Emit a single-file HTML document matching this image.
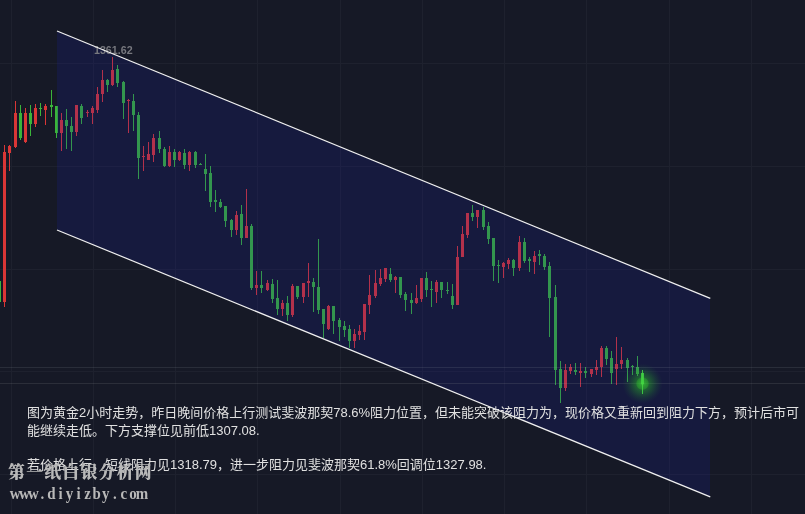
<!DOCTYPE html>
<html lang="zh-CN">
<head>
<meta charset="utf-8">
<title>黄金2小时走势</title>
<style>
html,body{margin:0;padding:0;background:#161926;}
body{width:805px;height:514px;overflow:hidden;position:relative;font-family:"Liberation Sans","Noto Sans CJK SC",sans-serif;}
#chart{position:absolute;left:0;top:0;width:805px;height:514px;display:block;}
.t{position:absolute;white-space:nowrap;margin:0;}
.note{left:27px;font-size:13px;line-height:18px;color:#e0e0e0;}
.wm1{left:8px;top:462px;font-family:"Liberation Serif","Noto Serif CJK SC",serif;font-weight:700;font-size:16.5px;line-height:22px;letter-spacing:1.6px;color:#b8b8b8;text-shadow:0.5px 0 0 #b8b8b8;}
.wm2{position:absolute;left:0;top:480px;display:block;overflow:visible;}

</style>
</head>
<body>
<svg id="chart" width="805" height="514" viewBox="0 0 805 514">
<defs><radialGradient id="glow" cx="50%" cy="50%" r="50%"><stop offset="0" stop-color="#48e840" stop-opacity="0.92"/><stop offset="0.09" stop-color="#38d830" stop-opacity="0.72"/><stop offset="0.28" stop-color="#30cc28" stop-opacity="0.6"/><stop offset="0.33" stop-color="#2cc824" stop-opacity="0.4"/><stop offset="0.5" stop-color="#2cc424" stop-opacity="0.28"/><stop offset="0.7" stop-color="#2cc024" stop-opacity="0.14"/><stop offset="0.87" stop-color="#2cbc24" stop-opacity="0.05"/><stop offset="1" stop-color="#2cb824" stop-opacity="0"/></radialGradient></defs>
<rect width="805" height="514" fill="#161926"/>
<g shape-rendering="crispEdges" fill="#1e212e"><rect x="11" y="0" width="1" height="514"/><rect x="93" y="0" width="1" height="514"/><rect x="175" y="0" width="1" height="514"/><rect x="257" y="0" width="1" height="514"/><rect x="340" y="0" width="1" height="514"/><rect x="422" y="0" width="1" height="514"/><rect x="504" y="0" width="1" height="514"/><rect x="586" y="0" width="1" height="514"/><rect x="669" y="0" width="1" height="514"/><rect x="751" y="0" width="1" height="514"/><rect x="0" y="63" width="805" height="1"/><rect x="0" y="166" width="805" height="1"/><rect x="0" y="269" width="805" height="1"/><rect x="0" y="371" width="805" height="1"/><rect x="0" y="474" width="805" height="1"/></g>
<g shape-rendering="crispEdges" fill="#da3636"><rect x="4" y="145" width="1" height="162"/><rect x="3" y="152" width="3" height="150"/><rect x="9" y="145" width="1" height="26"/><rect x="8" y="146" width="3" height="7"/><rect x="15" y="101" width="1" height="47"/><rect x="14" y="113" width="3" height="34"/><rect x="25" y="108" width="1" height="35"/><rect x="24" y="113" width="3" height="29"/><rect x="35" y="104" width="1" height="23"/><rect x="34" y="108" width="3" height="16"/><rect x="45" y="104" width="1" height="21"/><rect x="44" y="106" width="3" height="4"/><rect x="61" y="113" width="1" height="38"/><rect x="60" y="120" width="3" height="13"/><rect x="76" y="105" width="1" height="31"/><rect x="75" y="105" width="3" height="27"/><rect x="87" y="110" width="1" height="7"/><rect x="86" y="112" width="3" height="1"/><rect x="92" y="106" width="1" height="18"/><rect x="91" y="108" width="3" height="5"/><rect x="97" y="87" width="1" height="26"/><rect x="96" y="94" width="3" height="16"/><rect x="102" y="70" width="1" height="32"/><rect x="101" y="80" width="3" height="14"/><rect x="112" y="57" width="1" height="29"/><rect x="111" y="70" width="3" height="15"/><rect x="128" y="99" width="1" height="34"/><rect x="127" y="100" width="3" height="1"/><rect x="143" y="146" width="1" height="25"/><rect x="142" y="156" width="3" height="1"/><rect x="148" y="142" width="1" height="18"/><rect x="147" y="154" width="3" height="6"/><rect x="153" y="134" width="1" height="28"/><rect x="152" y="138" width="3" height="17"/><rect x="169" y="146" width="1" height="21"/><rect x="168" y="152" width="3" height="14"/><rect x="179" y="151" width="1" height="10"/><rect x="178" y="152" width="3" height="8"/><rect x="189" y="151" width="1" height="20"/><rect x="188" y="152" width="3" height="13"/><rect x="236" y="211" width="1" height="24"/><rect x="235" y="215" width="3" height="15"/><rect x="246" y="189" width="1" height="49"/><rect x="245" y="226" width="3" height="12"/><rect x="256" y="271" width="1" height="24"/><rect x="255" y="285" width="3" height="3"/><rect x="267" y="280" width="1" height="11"/><rect x="266" y="283" width="3" height="7"/><rect x="282" y="300" width="1" height="16"/><rect x="281" y="303" width="3" height="6"/><rect x="292" y="284" width="1" height="33"/><rect x="291" y="286" width="3" height="29"/><rect x="303" y="283" width="1" height="20"/><rect x="302" y="283" width="3" height="14"/><rect x="308" y="263" width="1" height="34"/><rect x="307" y="281" width="3" height="2"/><rect x="328" y="305" width="1" height="25"/><rect x="327" y="306" width="3" height="23"/><rect x="354" y="329" width="1" height="19"/><rect x="353" y="334" width="3" height="7"/><rect x="359" y="325" width="1" height="15"/><rect x="358" y="331" width="3" height="4"/><rect x="364" y="304" width="1" height="36"/><rect x="363" y="304" width="3" height="28"/><rect x="369" y="275" width="1" height="39"/><rect x="368" y="295" width="3" height="10"/><rect x="375" y="270" width="1" height="28"/><rect x="374" y="283" width="3" height="13"/><rect x="380" y="269" width="1" height="17"/><rect x="379" y="278" width="3" height="6"/><rect x="385" y="268" width="1" height="14"/><rect x="384" y="268" width="3" height="11"/><rect x="395" y="276" width="1" height="17"/><rect x="394" y="277" width="3" height="3"/><rect x="416" y="285" width="1" height="19"/><rect x="415" y="298" width="3" height="5"/><rect x="421" y="278" width="1" height="24"/><rect x="420" y="278" width="3" height="21"/><rect x="436" y="280" width="1" height="23"/><rect x="435" y="282" width="3" height="10"/><rect x="457" y="246" width="1" height="59"/><rect x="456" y="257" width="3" height="48"/><rect x="462" y="226" width="1" height="31"/><rect x="461" y="234" width="3" height="23"/><rect x="467" y="213" width="1" height="25"/><rect x="466" y="213" width="3" height="22"/><rect x="477" y="210" width="1" height="18"/><rect x="476" y="210" width="3" height="7"/><rect x="503" y="262" width="1" height="16"/><rect x="502" y="263" width="3" height="4"/><rect x="508" y="258" width="1" height="11"/><rect x="507" y="260" width="3" height="4"/><rect x="519" y="236" width="1" height="35"/><rect x="518" y="242" width="3" height="26"/><rect x="534" y="251" width="1" height="23"/><rect x="533" y="256" width="3" height="6"/><rect x="565" y="364" width="1" height="27"/><rect x="564" y="370" width="3" height="18"/><rect x="570" y="364" width="1" height="10"/><rect x="569" y="367" width="3" height="4"/><rect x="580" y="363" width="1" height="24"/><rect x="579" y="371" width="3" height="2"/><rect x="591" y="369" width="1" height="8"/><rect x="590" y="369" width="3" height="5"/><rect x="596" y="360" width="1" height="15"/><rect x="595" y="367" width="3" height="3"/><rect x="601" y="346" width="1" height="31"/><rect x="600" y="348" width="3" height="19"/><rect x="616" y="337" width="1" height="48"/><rect x="615" y="364" width="3" height="5"/><rect x="621" y="347" width="1" height="22"/><rect x="620" y="360" width="3" height="4"/></g>
<g shape-rendering="crispEdges" fill="#3ab53a"><rect x="-2" y="281" width="3" height="21"/><rect x="20" y="105" width="1" height="35"/><rect x="19" y="113" width="3" height="25"/><rect x="30" y="105" width="1" height="31"/><rect x="29" y="113" width="3" height="11"/><rect x="40" y="103" width="1" height="13"/><rect x="39" y="108" width="3" height="1"/><rect x="51" y="90" width="1" height="27"/><rect x="50" y="105" width="3" height="2"/><rect x="56" y="106" width="1" height="32"/><rect x="55" y="106" width="3" height="27"/><rect x="66" y="109" width="1" height="40"/><rect x="65" y="120" width="3" height="6"/><rect x="71" y="117" width="1" height="34"/><rect x="70" y="126" width="3" height="6"/><rect x="81" y="104" width="1" height="20"/><rect x="80" y="106" width="3" height="12"/><rect x="107" y="79" width="1" height="13"/><rect x="106" y="80" width="3" height="5"/><rect x="117" y="65" width="1" height="22"/><rect x="116" y="69" width="3" height="14"/><rect x="123" y="81" width="1" height="38"/><rect x="122" y="82" width="3" height="21"/><rect x="133" y="94" width="1" height="37"/><rect x="132" y="101" width="3" height="14"/><rect x="138" y="112" width="1" height="67"/><rect x="137" y="115" width="3" height="43"/><rect x="159" y="131" width="1" height="22"/><rect x="158" y="138" width="3" height="11"/><rect x="164" y="147" width="1" height="20"/><rect x="163" y="149" width="3" height="17"/><rect x="174" y="149" width="1" height="18"/><rect x="173" y="152" width="3" height="8"/><rect x="184" y="149" width="1" height="20"/><rect x="183" y="153" width="3" height="12"/><rect x="195" y="151" width="1" height="17"/><rect x="194" y="152" width="3" height="13"/><rect x="200" y="163" width="1" height="2"/><rect x="199" y="164" width="3" height="1"/><rect x="205" y="154" width="1" height="37"/><rect x="204" y="169" width="3" height="5"/><rect x="210" y="166" width="1" height="41"/><rect x="209" y="173" width="3" height="29"/><rect x="215" y="190" width="1" height="22"/><rect x="214" y="200" width="3" height="2"/><rect x="220" y="199" width="1" height="9"/><rect x="219" y="202" width="3" height="5"/><rect x="225" y="206" width="1" height="21"/><rect x="224" y="206" width="3" height="15"/><rect x="231" y="219" width="1" height="18"/><rect x="230" y="220" width="3" height="10"/><rect x="241" y="205" width="1" height="40"/><rect x="240" y="214" width="3" height="24"/><rect x="251" y="224" width="1" height="66"/><rect x="250" y="226" width="3" height="62"/><rect x="261" y="271" width="1" height="22"/><rect x="260" y="285" width="3" height="3"/><rect x="272" y="279" width="1" height="24"/><rect x="271" y="284" width="3" height="15"/><rect x="277" y="280" width="1" height="35"/><rect x="276" y="298" width="3" height="11"/><rect x="287" y="296" width="1" height="25"/><rect x="286" y="303" width="3" height="12"/><rect x="297" y="286" width="1" height="13"/><rect x="296" y="286" width="3" height="11"/><rect x="313" y="278" width="1" height="34"/><rect x="312" y="282" width="3" height="5"/><rect x="318" y="239" width="1" height="75"/><rect x="317" y="287" width="3" height="23"/><rect x="323" y="309" width="1" height="29"/><rect x="322" y="309" width="3" height="15"/><rect x="333" y="306" width="1" height="28"/><rect x="332" y="306" width="3" height="15"/><rect x="339" y="318" width="1" height="23"/><rect x="338" y="320" width="3" height="7"/><rect x="344" y="321" width="1" height="16"/><rect x="343" y="326" width="3" height="4"/><rect x="349" y="325" width="1" height="23"/><rect x="348" y="329" width="3" height="12"/><rect x="390" y="268" width="1" height="14"/><rect x="389" y="274" width="3" height="6"/><rect x="400" y="277" width="1" height="21"/><rect x="399" y="277" width="3" height="18"/><rect x="405" y="292" width="1" height="19"/><rect x="404" y="294" width="3" height="6"/><rect x="411" y="293" width="1" height="21"/><rect x="410" y="300" width="3" height="3"/><rect x="426" y="272" width="1" height="25"/><rect x="425" y="278" width="3" height="12"/><rect x="431" y="281" width="1" height="26"/><rect x="430" y="289" width="3" height="1"/><rect x="441" y="282" width="1" height="16"/><rect x="440" y="282" width="3" height="8"/><rect x="447" y="282" width="1" height="12"/><rect x="446" y="290" width="3" height="1"/><rect x="452" y="284" width="1" height="25"/><rect x="451" y="296" width="3" height="9"/><rect x="472" y="205" width="1" height="16"/><rect x="471" y="213" width="3" height="4"/><rect x="483" y="207" width="1" height="23"/><rect x="482" y="210" width="3" height="17"/><rect x="488" y="222" width="1" height="22"/><rect x="487" y="226" width="3" height="13"/><rect x="493" y="238" width="1" height="43"/><rect x="492" y="238" width="3" height="28"/><rect x="498" y="260" width="1" height="23"/><rect x="497" y="265" width="3" height="1"/><rect x="513" y="259" width="1" height="17"/><rect x="512" y="260" width="3" height="8"/><rect x="524" y="238" width="1" height="25"/><rect x="523" y="242" width="3" height="19"/><rect x="529" y="257" width="1" height="15"/><rect x="528" y="259" width="3" height="2"/><rect x="539" y="250" width="1" height="15"/><rect x="538" y="254" width="3" height="2"/><rect x="544" y="254" width="1" height="16"/><rect x="543" y="256" width="3" height="11"/><rect x="549" y="262" width="1" height="75"/><rect x="548" y="266" width="3" height="32"/><rect x="555" y="285" width="1" height="100"/><rect x="554" y="297" width="3" height="73"/><rect x="560" y="361" width="1" height="42"/><rect x="559" y="369" width="3" height="19"/><rect x="575" y="363" width="1" height="12"/><rect x="574" y="370" width="3" height="2"/><rect x="585" y="367" width="1" height="11"/><rect x="584" y="371" width="3" height="2"/><rect x="606" y="346" width="1" height="19"/><rect x="605" y="348" width="3" height="11"/><rect x="611" y="351" width="1" height="33"/><rect x="610" y="358" width="3" height="15"/><rect x="627" y="358" width="1" height="24"/><rect x="626" y="360" width="3" height="8"/><rect x="632" y="365" width="1" height="10"/><rect x="631" y="366" width="3" height="1"/><rect x="637" y="356" width="1" height="20"/><rect x="636" y="367" width="3" height="7"/><rect x="642" y="370" width="1" height="24"/><rect x="641" y="373" width="3" height="11"/></g>
<polygon points="57,31 710,298.3 710,496.8 57,230" fill="rgba(26,32,158,0.2)"/>
<g shape-rendering="crispEdges"><rect x="0" y="367" width="805" height="1" fill="rgba(160,170,175,0.14)"/><rect x="0" y="383" width="805" height="1" fill="rgba(165,165,165,0.15)"/></g>
<text x="94" y="53.8" textLength="38.6" lengthAdjust="spacingAndGlyphs" font-family="Liberation Sans, sans-serif" font-size="11.6" font-weight="bold" fill="#77787e">1361.62</text>
<g stroke="#f0f0f0" stroke-width="1.2" stroke-linecap="butt"><line x1="57" y1="31" x2="710.3" y2="298.4"/><line x1="57" y1="230" x2="710.3" y2="496.9"/></g>
<circle cx="642.5" cy="383.6" r="20" fill="url(#glow)"/><g shape-rendering="crispEdges" fill="#44d444" fill-opacity="0.6"><rect x="642" y="370" width="1" height="24"/><rect x="641" y="373" width="3" height="11"/></g>
</svg>
<p class="t note" style="top:404px">图为黄金2小时走势，昨日晚间价格上行测试斐波那契78.6%阻力位置，但未能突破该阻力为，现价格又重新回到阻力下方，预计后市可<br>能继续走低。下方支撑位见前低1307.08.</p>
<p class="t note" style="top:456px">若价格上行，短线阻力见1318.79，进一步阻力见斐波那契61.8%回调位1327.98.</p>
<div class="t wm1">第一纸白银分析网</div>
<svg class="wm2" width="160" height="30" viewBox="0 0 160 30"><text x="17.30 27.59 37.87 48.15 58.44 68.72 79.01 89.29 99.57 109.86 120.14 130.43 140.71 150.99 161.28" y="18.6" text-anchor="middle" transform="scale(0.88,1)" font-family="Liberation Serif, serif" font-weight="bold" font-size="17" fill="#b8b8b8">www.diyizby.com</text></svg>
</body>
</html>
